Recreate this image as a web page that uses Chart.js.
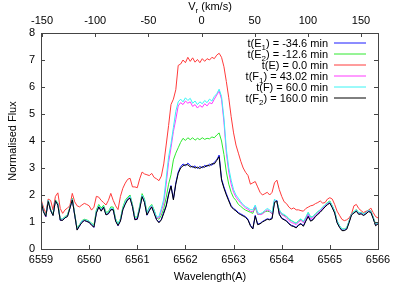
<!DOCTYPE html>
<html>
<head>
<meta charset="utf-8">
<script src="https://cdn.jsdelivr.net/npm/chart.js@4.4.1/dist/chart.umd.min.js"></script>
<style>
  html, body { margin: 0; padding: 0; background: #fff; }
  canvas { display: block; }
</style>
</head>
<body>
<canvas id="spec" width="399" height="285"></canvas>
<script>
// wavelength grid (A)
const wavelength = [
  6559.00,6559.05,6559.10,6559.15,6559.20,6559.25,6559.30,6559.35,6559.40,6559.45,
  6559.50,6559.55,6559.60,6559.65,6559.70,6559.75,6559.80,6559.85,6559.90,6559.95,
  6560.00,6560.05,6560.10,6560.15,6560.20,6560.25,6560.30,6560.35,6560.40,6560.45,
  6560.50,6560.55,6560.60,6560.65,6560.70,6560.75,6560.80,6560.85,6560.90,6560.95,
  6561.00,6561.05,6561.10,6561.15,6561.20,6561.25,6561.30,6561.35,6561.40,6561.45,
  6561.50,6561.55,6561.60,6561.65,6561.70,6561.75,6561.80,6561.85,6561.90,6561.95,
  6562.00,6562.05,6562.10,6562.15,6562.20,6562.25,6562.30,6562.35,6562.40,6562.45,
  6562.50,6562.55,6562.60,6562.65,6562.70,6562.75,6562.80,6562.85,6562.90,6562.95,
  6563.00,6563.05,6563.10,6563.15,6563.20,6563.25,6563.30,6563.35,6563.40,6563.45,
  6563.50,6563.55,6563.60,6563.65,6563.70,6563.75,6563.80,6563.85,6563.90,6563.95,
  6564.00,6564.05,6564.10,6564.15,6564.20,6564.25,6564.30,6564.35,6564.40,6564.45,
  6564.50,6564.55,6564.60,6564.65,6564.70,6564.75,6564.80,6564.85,6564.90,6564.95,
  6565.00,6565.05,6565.10,6565.15,6565.20,6565.25,6565.30,6565.35,6565.40,6565.45,
  6565.50,6565.55,6565.60,6565.65,6565.70,6565.75,6565.80,6565.85,6565.90,6565.95,
  6566.00
];

// t(E1) = -34.6 min
const fluxE1 = [
  1.78,1.40,1.19,1.78,1.42,1.25,1.78,1.65,1.06,1.08,
  1.15,1.22,1.50,1.84,1.25,0.72,0.84,1.00,1.05,1.03,
  0.98,0.90,0.80,1.35,1.55,1.42,1.54,1.28,1.30,1.47,
  1.45,1.05,0.86,1.05,1.45,1.69,1.82,1.91,1.56,1.10,
  1.10,1.50,1.95,1.75,1.25,1.45,1.55,1.35,1.08,1.00,
  1.10,1.37,1.60,2.05,2.35,1.85,2.45,2.85,3.05,3.15,
  3.08,3.18,3.10,3.02,3.08,2.98,3.06,3.00,3.10,3.05,
  3.15,3.10,3.22,3.30,3.48,2.60,2.30,2.05,1.82,1.60,
  1.50,1.44,1.35,1.30,1.25,1.20,1.10,0.88,0.76,1.25,
  0.92,0.95,1.02,1.07,1.12,1.10,1.15,1.75,1.80,1.30,
  1.15,1.10,1.05,0.95,0.88,0.85,0.80,0.90,0.95,0.86,
  1.05,1.23,1.05,1.10,1.22,1.30,1.38,1.48,1.58,1.66,
  1.72,1.55,1.35,0.99,0.82,0.70,0.70,0.75,1.00,1.28,
  1.35,1.42,1.30,1.32,1.26,1.32,1.40,1.38,1.15,0.88,
  0.95
];

// t(E2) = -12.6 min
const fluxE2 = [
  1.80,1.45,1.22,1.82,1.47,1.28,1.82,1.70,1.10,1.12,
  1.20,1.27,1.55,1.88,1.30,0.77,0.90,1.05,1.10,1.08,
  1.03,0.96,0.88,1.45,1.65,1.52,1.62,1.36,1.38,1.56,
  1.55,1.12,0.93,1.12,1.55,1.80,1.92,2.00,1.65,1.18,
  1.18,1.60,2.05,1.85,1.35,1.55,1.65,1.45,1.16,1.10,
  1.25,1.50,1.90,2.40,2.75,3.30,3.55,3.75,3.95,4.10,
  4.02,4.12,4.05,4.12,4.03,4.10,4.05,4.12,4.06,4.10,
  4.08,4.15,4.12,4.22,4.30,4.00,3.50,2.85,2.40,2.10,
  1.90,1.80,1.65,1.58,1.50,1.44,1.40,1.36,1.32,1.55,
  1.28,1.28,1.32,1.38,1.40,1.38,1.30,1.80,1.70,1.45,
  1.28,1.25,1.20,1.10,1.05,1.00,0.95,1.05,1.10,1.00,
  1.15,1.35,1.18,1.20,1.30,1.38,1.45,1.55,1.64,1.72,
  1.78,1.60,1.40,1.04,0.86,0.74,0.74,0.79,1.04,1.32,
  1.38,1.46,1.34,1.36,1.30,1.36,1.44,1.42,1.18,0.92,
  0.98
];

// t(E) = 0.0 min
const fluxE = [
  1.84,1.55,1.31,1.85,1.80,1.45,1.95,2.08,1.50,1.32,
  1.45,1.52,1.60,2.06,1.75,1.60,1.56,1.63,1.69,1.65,
  1.60,1.44,1.55,1.95,1.92,1.80,1.72,1.63,1.80,2.06,
  1.80,1.60,1.46,1.95,2.25,2.44,2.58,2.62,2.30,2.30,
  2.27,2.60,2.85,2.78,2.75,2.72,2.80,2.65,2.60,2.53,
  2.70,3.15,3.85,4.57,5.35,5.55,5.90,6.80,6.85,7.00,
  6.90,7.10,6.95,7.08,6.92,7.02,6.90,7.05,6.95,7.05,
  7.00,7.10,7.05,7.18,7.25,7.10,6.75,6.20,5.60,4.90,
  4.30,3.85,3.55,3.25,3.00,2.84,2.72,2.40,2.45,2.50,
  2.30,2.10,2.00,2.05,2.10,2.00,2.10,2.45,2.55,2.20,
  1.95,1.75,1.68,1.55,1.48,1.52,1.45,1.45,1.42,1.40,
  1.50,1.55,1.60,1.62,1.68,1.72,1.78,1.70,1.72,1.85,
  1.90,1.85,1.65,1.40,1.25,1.10,1.05,1.08,1.15,1.30,
  1.60,1.65,1.50,1.42,1.35,1.40,1.42,1.52,1.35,1.20,
  1.15
];

// t(F1) = 43.02 min
const fluxF1 = [
  1.79,1.42,1.20,1.79,1.44,1.27,1.79,1.66,1.08,1.10,
  1.17,1.24,1.51,1.85,1.27,0.74,0.86,1.02,1.07,1.05,
  1.00,0.92,0.83,1.38,1.58,1.45,1.56,1.30,1.32,1.50,
  1.48,1.08,0.88,1.08,1.48,1.72,1.85,1.94,1.60,1.14,
  1.14,1.54,1.98,1.80,1.30,1.50,1.60,1.40,1.15,1.15,
  1.40,1.70,2.40,3.20,3.75,4.35,4.80,5.30,5.42,5.35,
  5.48,5.40,5.45,5.28,5.35,5.22,5.32,5.25,5.38,5.30,
  5.42,5.38,5.55,5.70,5.85,5.55,4.70,3.55,2.85,2.40,
  2.10,1.92,1.80,1.70,1.60,1.52,1.47,1.40,1.38,1.58,
  1.30,1.27,1.30,1.38,1.45,1.40,1.30,1.80,1.72,1.40,
  1.28,1.22,1.15,1.05,0.98,0.95,0.90,1.00,1.06,0.97,
  1.12,1.30,1.12,1.16,1.26,1.34,1.42,1.52,1.61,1.68,
  1.74,1.58,1.38,1.02,0.84,0.72,0.72,0.77,1.02,1.29,
  1.36,1.44,1.32,1.34,1.28,1.34,1.42,1.40,1.17,0.90,
  0.96
];

// t(F) = 60.0 min
const fluxF = [
  1.80,1.43,1.22,1.80,1.45,1.28,1.80,1.68,1.10,1.12,
  1.18,1.25,1.52,1.86,1.28,0.76,0.88,1.04,1.08,1.06,
  1.02,0.94,0.85,1.40,1.60,1.47,1.58,1.32,1.34,1.52,
  1.50,1.10,0.90,1.10,1.50,1.75,1.88,1.96,1.62,1.16,
  1.16,1.56,2.00,1.82,1.32,1.52,1.62,1.42,1.18,1.20,
  1.50,1.85,2.60,3.40,3.90,4.50,5.10,5.45,5.55,5.45,
  5.60,5.50,5.58,5.40,5.48,5.35,5.45,5.38,5.50,5.42,
  5.55,5.48,5.65,5.75,5.92,5.65,4.85,3.70,3.00,2.55,
  2.20,2.00,1.88,1.75,1.64,1.57,1.52,1.46,1.45,1.63,
  1.35,1.30,1.35,1.43,1.50,1.45,1.35,1.85,1.75,1.45,
  1.32,1.28,1.22,1.12,1.05,1.00,0.95,1.05,1.12,1.02,
  1.18,1.35,1.18,1.20,1.30,1.38,1.45,1.54,1.63,1.70,
  1.76,1.60,1.40,1.04,0.86,0.74,0.73,0.78,1.03,1.30,
  1.37,1.45,1.33,1.35,1.29,1.35,1.43,1.41,1.18,0.91,
  0.97
];

// t(F2) = 160.0 min
const fluxF2 = [
  1.79,1.38,1.21,1.76,1.43,1.24,1.79,1.62,1.07,1.06,
  1.16,1.20,1.51,1.82,1.26,0.70,0.86,0.98,1.06,1.02,
  0.99,0.88,0.81,1.33,1.56,1.40,1.55,1.26,1.31,1.45,
  1.46,1.03,0.87,1.03,1.46,1.66,1.83,1.88,1.57,1.08,
  1.11,1.48,1.94,1.72,1.26,1.42,1.56,1.32,1.09,0.97,
  1.08,1.32,1.58,2.00,2.33,1.82,2.40,2.80,3.00,3.08,
  3.12,3.12,3.04,3.06,3.00,3.03,2.98,3.05,3.03,3.10,
  3.08,3.16,3.15,3.28,3.42,2.55,2.25,2.00,1.78,1.57,
  1.47,1.41,1.32,1.27,1.22,1.17,1.07,0.86,0.74,1.22,
  0.90,0.93,1.00,1.05,1.10,1.08,1.12,1.72,1.78,1.28,
  1.13,1.08,1.03,0.93,0.86,0.83,0.78,0.88,0.93,0.84,
  1.03,1.20,1.03,1.08,1.20,1.28,1.36,1.46,1.56,1.64,
  1.70,1.53,1.33,0.97,0.80,0.68,0.68,0.73,0.98,1.26,
  1.33,1.40,1.28,1.30,1.24,1.30,1.38,1.36,1.13,0.86,
  0.93
];

// legend labels: t(<epoch><sub>) = <time> min
const epochs = ['E', 'E', 'E', 'F', 'F', 'F'];
const epochSubs = ['1', '2', '', '1', '', '2'];
const timesMin = ['-34.6', '-12.6', '0.0', '43.02', '60.0', '160.0'];
const seriesColors = ['#1a1aff', '#2ee82e', '#ff3a3a', '#ff38ff', '#38f4f4', '#000000'];

// tick labels
const waveTicks = [6559, 6560, 6561, 6562, 6563, 6564, 6565, 6566];
const fluxTicks = [0, 1, 2, 3, 4, 5, 6, 7, 8];
const vrTicks = [-150, -100, -50, 0, 50, 100, 150];

const FONT = '"Liberation Sans", Arial, sans-serif';
const allFlux = [fluxE1, fluxE2, fluxE, fluxF1, fluxF, fluxF2];

const datasets = allFlux.map((flux, k) => ({
    label: 't(' + epochs[k] + epochSubs[k] + ') = ' + timesMin[k] + ' min',
    data: wavelength.map((w, i) => ({ x: w, y: flux[i] })),
    borderColor: seriesColors[k],
    borderWidth: 1,
    pointRadius: 0,
    tension: 0,
    fill: false,
    order: 6 - k
}));

// text with an optional subscript part
const drawSubText = (ctx, parts, x, y, align) => {
    let total = 0;
    parts.forEach(p => {
        ctx.font = (p.sub ? '8px ' : '11px ') + FONT;
        p.w = ctx.measureText(p.t).width;
        total += p.w;
    });
    let cx = align === 'right' ? x - total : (align === 'center' ? x - total / 2 : x);
    ctx.textAlign = 'left';
    ctx.textBaseline = 'alphabetic';
    parts.forEach(p => {
        ctx.font = (p.sub ? '8px ' : '11px ') + FONT;
        ctx.fillText(p.t, cx, p.sub ? y + 3 : y);
        cx += p.w;
    });
};

const framePlugin = {
    id: 'gnuframe',
    afterDraw(chart) {
        const { ctx, chartArea: a, scales } = chart;
        ctx.save();
        ctx.strokeStyle = '#444';
        ctx.lineWidth = 1;
        ctx.strokeRect(Math.round(a.left) + 0.5, Math.round(a.top) + 0.5,
            Math.round(a.right - a.left), Math.round(a.bottom - a.top));

        // inward ticks
        ctx.beginPath();
        waveTicks.forEach(v => {
            const px = Math.round(scales.x.getPixelForValue(v)) + 0.5;
            ctx.moveTo(px, a.bottom);
            ctx.lineTo(px, a.bottom - 4);
        });
        vrTicks.forEach(v => {
            const px = Math.round(scales.vr.getPixelForValue(v)) + 0.5;
            ctx.moveTo(px, a.top);
            ctx.lineTo(px, a.top + 4);
        });
        fluxTicks.forEach(v => {
            const py = Math.round(scales.y.getPixelForValue(v)) + 0.5;
            ctx.moveTo(a.left, py);
            ctx.lineTo(a.left + 4, py);
            ctx.moveTo(a.right, py);
            ctx.lineTo(a.right - 4, py);
        });
        ctx.stroke();

        // axis titles
        ctx.fillStyle = '#000';
        ctx.font = '11px ' + FONT;
        ctx.textAlign = 'center';
        ctx.textBaseline = 'alphabetic';
        ctx.fillText('Wavelength(A)', 210, 280);
        ctx.save();
        ctx.translate(16, 141);
        ctx.rotate(-Math.PI / 2);
        ctx.fillText('Normalised Flux', 0, 0);
        ctx.restore();
        drawSubText(ctx, [{ t: 'V' }, { t: 'r', sub: true }, { t: ' (km/s)' }], 210, 9.5, 'center');

        // key
        timesMin.forEach((t, k) => {
            const ly = 43 + 11 * k;
            const parts = [{ t: 't(' + epochs[k] }];
            if (epochSubs[k]) parts.push({ t: epochSubs[k], sub: true });
            parts.push({ t: ') = ' + t + ' min' });
            ctx.fillStyle = '#000';
            drawSubText(ctx, parts, 328, ly + 4, 'right');
            ctx.strokeStyle = seriesColors[k];
            ctx.beginPath();
            ctx.moveTo(334, ly);
            ctx.lineTo(366, ly);
            ctx.stroke();
        });
        ctx.restore();
    }
};

const tickFont = { family: FONT, size: 11 };
const noGrid = { display: false, drawTicks: false };

new Chart(document.getElementById('spec'), {
    type: 'line',
    data: { datasets },
    options: {
        responsive: false,
        animation: false,
        layout: { padding: { left: 0, right: 21, top: 0, bottom: 0 } },
        plugins: { legend: { display: false }, tooltip: { enabled: false } },
        scales: {
            x: {
                type: 'linear', position: 'bottom', min: 6559, max: 6566,
                grid: noGrid, border: { display: false },
                afterBuildTicks: s => { s.ticks = waveTicks.map(v => ({ value: v })); },
                ticks: { color: '#000', font: tickFont, padding: 4, maxRotation: 0, callback: v => String(v) },
                afterFit: s => { s.height = 36; }
            },
            vr: {
                type: 'linear', position: 'top', min: -151, max: 166,
                grid: noGrid, border: { display: false },
                afterBuildTicks: s => { s.ticks = vrTicks.map(v => ({ value: v })); },
                ticks: { color: '#000', font: tickFont, padding: 5, maxRotation: 0, callback: v => String(v) },
                afterFit: s => { s.height = 33; }
            },
            y: {
                type: 'linear', position: 'left', min: 0, max: 8,
                grid: noGrid, border: { display: false },
                afterBuildTicks: s => { s.ticks = fluxTicks.map(v => ({ value: v })); },
                ticks: { color: '#000', font: tickFont, padding: 6, callback: v => String(v) },
                afterFit: s => { s.width = 41; }
            }
        }
    },
    plugins: [framePlugin]
});
</script>
</body>
</html>
